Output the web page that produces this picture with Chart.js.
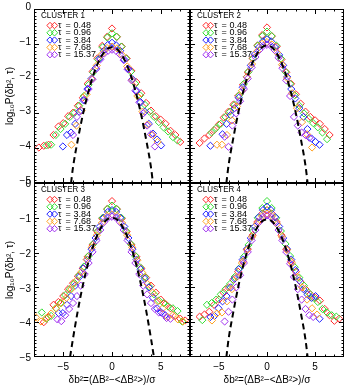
<!DOCTYPE html>
<html>
<head>
<meta charset="utf-8">
<script src="https://cdn.jsdelivr.net/npm/chart.js@4.4.0/dist/chart.umd.min.js"></script>
<style>
  body { margin: 0; background: #fff; }
  #wrap { position: relative; width: 349px; height: 388px; }
  #wrap canvas { position: absolute; left: 0; top: 0; }
</style>
</head>
<body>
<div id="wrap">
  <canvas id="c1" width="349" height="388"></canvas>
  <canvas id="c2" width="349" height="388"></canvas>
  <canvas id="c3" width="349" height="388"></canvas>
  <canvas id="c4" width="349" height="388"></canvas>
</div>
<script>
// bin centres (δb²) for each tau
const xTau048  = [-7.5,-7,-6.5,-6,-5.5,-5,-4.5,-4,-3.5,-3,-2.5,-2,-1.5,-1,-0.5,0,0.5,1,1.5,2,2.5,3,3.5,4,4.5,5,5.5,6,6.5,7,7.5];
const xTau096  = [-7.2,-6.72,-6.24,-5.76,-5.28,-4.8,-4.32,-3.84,-3.36,-2.88,-2.4,-1.92,-1.44,-0.96,-0.48,0,0.48,0.96,1.44,1.92,2.4,2.88,3.36,3.84,4.32,4.8,5.28,5.76,6.24,6.72,7.2];
const xTau384  = [-6.3,-5.88,-5.46,-5.04,-4.62,-4.2,-3.78,-3.36,-2.94,-2.52,-2.1,-1.68,-1.26,-0.84,-0.42,0,0.42,0.84,1.26,1.68,2.1,2.52,2.94,3.36,3.78,4.2,4.62,5.04,5.46,5.88,6.3];
const xTau768  = [-7.8,-7.28,-6.76,-6.24,-5.72,-5.2,-4.68,-4.16,-3.64,-3.12,-2.6,-2.08,-1.56,-1.04,-0.52,0,0.52,1.04,1.56,2.08,2.6,3.12,3.64,4.16,4.68,5.2,5.72,6.24,6.76,7.28,7.8];
const xTau1537 = [-6,-5.6,-5.2,-4.8,-4.4,-4,-3.6,-3.2,-2.8,-2.4,-2,-1.6,-1.2,-0.8,-0.4,0,0.4,0.8,1.2,1.6,2,2.4,2.8,3.2,3.6,4,4.4,4.8,5.2,5.6,6];

const tauLabels = ['0.48', '0.96', '3.84', '7.68', '15.37'];
const tauColors = ['#ff2a2a', '#33dd33', '#2222ff', '#ffa020', '#a030f0'];

// log10 P values, cluster 1
const c1Tau048  = [-3.98,-3.93,-3.9,-3.62,-3.38,-3.28,-3.08,-2.98,-2.78,-2.55,-2.15,-1.8,-1.42,-1.06,-0.8,-0.56,-0.8,-1.08,-1.42,-1.78,-2.1,-2.42,-2.7,-2.92,-3.08,-3.18,-3.3,-3.5,-3.62,-3.82,null];
const c1Tau096  = [null,-3.92,-3.9,-3.62,-3.45,-3.3,-3.1,-2.98,-2.78,-2.5,-2.18,-1.82,-1.45,-1.1,-0.82,-0.7,-0.8,-1.08,-1.42,-1.8,-2.15,-2.48,-2.75,-2.95,-3.1,-3.25,-3.4,-3.52,-3.68,-3.78,null];
const c1Tau384  = [null,null,null,-3.95,-3.62,-3.55,-3.3,-2.95,-2.62,-2.3,-2.0,-1.7,-1.42,-1.2,-1.03,-0.97,-1.04,-1.2,-1.45,-1.72,-2.02,-2.35,-2.68,-2.95,-3.3,-3.58,-3.75,-3.92,null,null,null];
const c1Tau768  = [null,null,null,null,null,null,null,-3.9,-3.35,-2.92,-2.45,-2.02,-1.62,-1.3,-1.12,-1.08,-1.13,-1.32,-1.65,-2.05,-2.5,-2.95,-3.32,-3.62,-3.82,null,null,null,null,null,null];
const c1Tau1537 = [null,null,null,null,null,-3.62,-3.1,-2.92,-2.62,-2.3,-2.02,-1.72,-1.45,-1.28,-1.2,-1.17,-1.2,-1.3,-1.47,-1.73,-2.05,-2.35,-2.68,-3.0,-3.35,-3.6,-3.95,null,null,null,null];

// cluster 2
const c2Tau048  = [null,-3.85,-3.72,-3.62,-3.48,-3.32,-3.12,-2.95,-2.75,-2.5,-2.18,-1.82,-1.42,-1.05,-0.75,-0.53,-0.78,-1.08,-1.45,-1.82,-2.15,-2.45,-2.72,-2.95,-3.1,-3.2,-3.3,-3.45,-3.62,null,null];
const c2Tau096  = [null,null,null,-3.55,-3.42,-3.3,-3.1,-2.95,-2.75,-2.48,-2.15,-1.8,-1.42,-1.05,-0.78,-0.65,-0.78,-1.05,-1.42,-1.8,-2.15,-2.48,-2.78,-3.0,-3.15,-3.28,-3.4,-3.55,-3.74,null,null];
const c2Tau384  = [null,-3.93,null,null,-3.6,-3.3,-3.05,-2.85,-2.55,-2.25,-1.95,-1.62,-1.3,-1.1,-0.93,-0.87,-0.93,-1.1,-1.32,-1.62,-1.95,-2.3,-2.57,-2.85,-3.1,-3.45,-3.72,-3.82,-3.9,null,null];
const c2Tau768  = [null,null,null,null,null,-3.9,-3.9,-3.62,-3.2,-2.8,-2.35,-1.95,-1.58,-1.22,-1.0,-0.95,-1.02,-1.25,-1.6,-1.98,-2.42,-2.85,-3.25,-3.6,-3.98,null,null,null,null,null,null];
const c2Tau1537 = [null,null,null,null,-3.67,-3.96,-3.35,-3.0,-2.65,-2.3,-2.0,-1.68,-1.38,-1.18,-1.06,-1.03,-1.06,-1.18,-1.4,-1.7,-2.05,-2.5,-3.1,-3.35,-3.55,-3.62,-3.7,null,null,null,null];

// cluster 3
const c3Tau048  = [null,-4.0,-3.85,-3.5,-3.42,-3.25,-3.05,-2.88,-2.68,-2.45,-2.12,-1.78,-1.4,-1.02,-0.75,-0.52,-0.75,-1.02,-1.4,-1.78,-2.12,-2.45,-2.72,-2.95,-3.15,-3.35,-3.48,-3.6,-3.82,-3.9,-3.95];
const c3Tau096  = [-3.72,-3.9,-3.82,-3.6,-3.45,-3.22,-3.05,-2.88,-2.65,-2.4,-2.1,-1.75,-1.38,-1.0,-0.75,-0.65,-0.75,-1.0,-1.38,-1.75,-2.1,-2.42,-2.7,-2.98,-3.2,-3.38,-3.45,-3.55,-3.6,-3.68,-3.98];
const c3Tau384  = [null,null,-3.74,-3.74,-3.5,-3.25,-2.95,-2.7,-2.45,-2.2,-1.9,-1.58,-1.25,-1.0,-0.83,-0.78,-0.83,-1.0,-1.25,-1.58,-1.9,-2.2,-2.48,-2.75,-3.0,-3.3,-3.6,-3.72,-3.8,null,null];
const c3Tau768  = [-3.86,-3.98,-3.88,-3.75,-3.6,-3.45,-3.3,-3.05,-2.8,-2.55,-2.2,-1.85,-1.5,-1.15,-0.95,-0.9,-0.95,-1.15,-1.5,-1.85,-2.22,-2.58,-2.9,-3.15,-3.4,-3.6,-3.85,-3.8,-3.92,-3.98,null];
const c3Tau1537 = [null,-3.92,-3.97,-3.8,-3.62,-3.45,-3.25,-2.95,-2.62,-2.3,-1.98,-1.65,-1.35,-1.12,-1.0,-0.97,-1.0,-1.12,-1.35,-1.65,-1.98,-2.3,-2.62,-2.95,-3.2,-3.45,-3.62,-3.72,-3.75,-3.88,-3.9];

// cluster 4
const c4Tau048  = [null,-3.84,-3.78,-3.7,-3.5,-3.35,-3.15,-3.0,-2.78,-2.55,-2.25,-1.9,-1.5,-1.12,-0.88,-0.78,-0.88,-1.12,-1.5,-1.9,-2.25,-2.55,-2.85,-3.05,-3.2,-3.3,-3.38,-3.62,-3.8,-3.96,-3.9];
const c4Tau096  = [null,-3.94,-3.5,-3.45,-3.35,-3.2,-3.05,-2.9,-2.7,-2.45,-2.12,-1.78,-1.38,-1.0,-0.72,-0.52,-0.72,-1.0,-1.38,-1.75,-2.1,-2.42,-2.72,-2.95,-3.15,-3.3,-3.42,-3.62,-3.72,-3.8,-3.84];
const c4Tau384  = [null,-3.85,-3.82,-3.6,-3.4,-3.25,-3.0,-2.75,-2.48,-2.2,-1.9,-1.58,-1.25,-0.98,-0.78,-0.68,-0.78,-0.98,-1.25,-1.58,-1.9,-2.2,-2.5,-2.8,-3.05,-3.2,-3.3,-3.25,-3.9,null,null];
const c4Tau768  = [null,null,null,null,-3.95,-3.75,-3.72,-3.4,-3.05,-2.7,-2.3,-1.92,-1.55,-1.18,-0.95,-0.88,-0.95,-1.18,-1.55,-1.92,-2.3,-2.7,-3.0,-3.35,-3.6,-3.78,null,null,null,null,null];
const c4Tau1537 = [null,null,null,null,-3.98,-3.7,-3.35,-3.0,-2.65,-2.3,-1.98,-1.65,-1.35,-1.12,-0.98,-0.93,-0.98,-1.12,-1.35,-1.65,-1.98,-2.32,-2.7,-3.05,-3.35,-3.62,-3.8,-3.85,null,null,null];

// dashed gaussian reference
const gaussX1 = [-4.2,-4,-3.5,-3,-2.5,-2,-1.5,-1,-0.5,0,0.5,1,1.5,2,2.5,3,3.5,4,4.2];
const gaussY1 = [-5,-4.55,-3.75,-3.05,-2.46,-1.97,-1.59,-1.32,-1.15,-1.1,-1.15,-1.32,-1.59,-1.97,-2.46,-3.05,-3.75,-4.55,-5];
const gaussX2 = [-4.22,-4,-3.5,-3,-2.5,-2,-1.5,-1,-0.5,0,0.5,1,1.5,2,2.5,3,3.5,4,4.22];
const gaussY2 = [-5,-4.5,-3.71,-3.0,-2.41,-1.92,-1.54,-1.27,-1.1,-1.05,-1.1,-1.27,-1.54,-1.92,-2.41,-3.0,-3.71,-4.5,-5];
const gaussX3 = [-4.3,-4,-3.5,-3,-2.5,-2,-1.5,-1,-0.5,0,0.5,1,1.5,2,2.5,3,3.5,4,4.3];
const gaussY3 = [-5,-4.47,-3.66,-2.95,-2.36,-1.87,-1.49,-1.22,-1.05,-1.0,-1.05,-1.22,-1.49,-1.87,-2.36,-2.95,-3.66,-4.47,-5];

const FONT = "'Liberation Sans', Arial, sans-serif";
const W = 349, H = 388;

const xGrids = [xTau048, xTau096, xTau384, xTau768, xTau1537];

const panels = [
  { id: 'c1', name: 'CLUSTER 1', box: [34, 9, 190, 183], left: true, bottom: false,
    series: [c1Tau048, c1Tau096, c1Tau384, c1Tau768, c1Tau1537], gx: gaussX1, gy: gaussY1 },
  { id: 'c2', name: 'CLUSTER 2', box: [190, 9, 346, 183], left: false, bottom: false,
    series: [c2Tau048, c2Tau096, c2Tau384, c2Tau768, c2Tau1537], gx: gaussX2, gy: gaussY2 },
  { id: 'c3', name: 'CLUSTER 3', box: [34, 183, 190, 357], left: true, bottom: true,
    series: [c3Tau048, c3Tau096, c3Tau384, c3Tau768, c3Tau1537], gx: gaussX3, gy: gaussY3 },
  { id: 'c4', name: 'CLUSTER 4', box: [190, 183, 346, 357], left: false, bottom: true,
    series: [c4Tau048, c4Tau096, c4Tau384, c4Tau768, c4Tau1537], gx: gaussX2, gy: gaussY2 }
];

const minus = v => String(v).replace('-', '\u2212');

// IDL-like box with inward ticks on all four sides
const framePlugin = {
  id: 'frame',
  afterDatasetsDraw(chart) {
    const { ctx, chartArea: a, scales: { x, y } } = chart;
    ctx.save();
    ctx.strokeStyle = '#000';
    ctx.lineWidth = 1;
    ctx.beginPath();
    for (let v = -7; v <= 7; v++) {
      const px = Math.round(x.getPixelForValue(v)) + 0.5;
      const len = v % 5 === 0 ? 5 : 2.5;
      ctx.moveTo(px, a.bottom); ctx.lineTo(px, a.bottom - len);
      ctx.moveTo(px, a.top); ctx.lineTo(px, a.top + len);
    }
    for (let k = 1; k < 50; k++) {
      const py = Math.round(y.getPixelForValue(-5 + k / 10)) + 0.5;
      const len = k % 10 === 0 ? 5 : 2.5;
      ctx.moveTo(a.left, py); ctx.lineTo(a.left + len, py);
      ctx.moveTo(a.right, py); ctx.lineTo(a.right - len, py);
    }
    ctx.stroke();
    ctx.strokeRect(a.left + 0.5, a.top + 0.5, a.width - 1, a.height - 1);
    ctx.restore();
  }
};

function diamond(ctx, cx, cy, r, color) {
  ctx.beginPath();
  ctx.moveTo(cx - r, cy);
  ctx.lineTo(cx, cy - r);
  ctx.lineTo(cx + r, cy);
  ctx.lineTo(cx, cy + r);
  ctx.closePath();
  ctx.strokeStyle = color;
  ctx.stroke();
}

// cluster title and tau key in the top-left corner
const keyPlugin = {
  id: 'key',
  afterDraw(chart) {
    const { ctx, chartArea: a } = chart;
    const name = chart.options.plugins.key.name;
    ctx.save();
    ctx.fillStyle = '#000';
    ctx.textBaseline = 'middle';
    ctx.textAlign = 'left';
    ctx.font = '9.5px ' + FONT;
    ctx.fillText(name, a.left + 7, a.top + 6.5, 44);
    ctx.font = '9px ' + FONT;
    ctx.lineWidth = 1;
    tauLabels.forEach((t, i) => {
      const yy = a.top + 16.5 + i * 7.3;
      diamond(ctx, a.left + 16, yy, 3.2, tauColors[i]);
      diamond(ctx, a.left + 20.5, yy, 3.2, tauColors[i]);
      ctx.fillText('\u03c4', a.left + 24, yy);
      ctx.fillText('=', a.left + 31.5, yy);
      ctx.fillText(t, a.left + 39.5, yy);
    });
    ctx.restore();
  }
};

function makeChart(p) {
  const [L, T, R, B] = p.box;
  const datasets = p.series.map((ys, i) => ({
    label: '\u03c4 = ' + tauLabels[i],
    data: xGrids[i].map((x, k) => ({ x: x, y: ys[k] })).filter(d => d.y !== null),
    showLine: false,
    pointStyle: 'rectRot',
    pointRadius: 3.6,
    pointBorderWidth: 1,
    borderColor: tauColors[i],
    backgroundColor: 'rgba(0,0,0,0)',
    order: 5 - i
  }));
  datasets.push({
    label: 'gaussian',
    data: p.gx.map((x, k) => ({ x: x, y: p.gy[k] })),
    showLine: true,
    pointRadius: 0,
    borderColor: '#000',
    borderWidth: 2,
    borderDash: [6, 4],
    cubicInterpolationMode: 'monotone',
    fill: false,
    order: 0
  });

  return new Chart(document.getElementById(p.id), {
    type: 'scatter',
    data: { datasets: datasets },
    options: {
      responsive: false,
      animation: false,
      events: [],
      layout: {
        padding: { left: p.left ? 0 : L, top: T, right: W - R, bottom: p.bottom ? 0 : H - B }
      },
      plugins: {
        legend: { display: false },
        tooltip: { enabled: false },
        key: { name: p.name }
      },
      scales: {
        x: {
          type: 'linear', position: 'bottom', min: -8, max: 8,
          grid: { display: false, drawTicks: false },
          border: { display: false },
          ticks: {
            display: p.bottom, stepSize: 5, includeBounds: false, padding: 4,
            color: '#000', font: { family: FONT, size: 10 }, callback: minus
          },
          title: {
            display: p.bottom, text: '\u03b4b\u00b2=(\u0394B\u00b2\u2212<\u0394B\u00b2>)/\u03c3',
            color: '#000', font: { family: FONT, size: 10 }, padding: { top: 0, bottom: 2 }
          },
          afterFit: s => { s.height = p.bottom ? H - B : 0; }
        },
        y: {
          type: 'linear', position: 'left', min: -5, max: 0,
          grid: { display: false, drawTicks: false },
          border: { display: false },
          ticks: {
            display: p.left, stepSize: 1, padding: 3, labelOffset: p.bottom ? 1.5 : -2,
            color: '#000', font: { family: FONT, size: 10 }, callback: minus
          },
          title: {
            display: p.left, text: 'log\u2081\u2080P(\u03b4b\u00b2, \u03c4)',
            color: '#000', font: { family: FONT, size: 10 }, padding: { top: 4, bottom: 0 }
          },
          afterFit: s => { s.width = p.left ? L : 0; }
        }
      }
    },
    plugins: [framePlugin, keyPlugin]
  });
}

panels.forEach(makeChart);
</script>
</body>
</html>
